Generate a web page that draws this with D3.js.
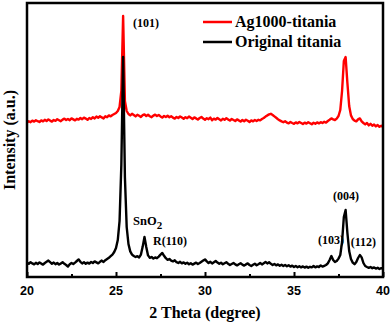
<!DOCTYPE html>
<html>
<head>
<meta charset="utf-8">
<script src="https://cdn.jsdelivr.net/npm/d3@7.9.0/dist/d3.min.js"></script>
<style>
  html, body { margin: 0; padding: 0; background: #fff; }
  svg { display: block; }
  .serif { font-family: "Liberation Serif", "Times New Roman", serif; font-weight: bold; }
  .sans { font-family: "Liberation Sans", Arial, sans-serif; font-weight: bold; }
</style>
</head>
<body>
<svg id="chart" width="392" height="325"></svg>
<script>
// 2 theta sampling (degrees), one value per 0.1 deg from 20 to 40
const thetaStart = 20;
const thetaStep = 0.1;

// Ag1000-titania intensity (a.u.)
const agTitania = [
  772, 779, 774, 782, 777, 784, 779, 775, 783, 778,
  786, 780, 788, 782, 777, 785, 781, 789, 784, 779,
  787, 792, 785, 790, 784, 793, 788, 783, 791, 787,
  795, 789, 797, 792, 786, 795, 790, 799, 793, 802,
  796, 804, 798, 793, 804, 799, 808, 803, 810, 815,
  820, 830, 850, 930, 1305, 880, 830, 815, 808, 816,
  810, 803, 811, 806, 800, 809, 813, 805, 811, 804,
  799, 807, 812, 805, 810, 803, 797, 805, 800, 806,
  799, 804, 797, 792, 800, 795, 803, 797, 791, 799,
  794, 802, 796, 790, 798, 793, 787, 795, 800, 792,
  786, 794, 789, 797, 784, 792, 787, 795, 789, 783,
  791, 786, 794, 788, 782, 790, 785, 780, 788, 783,
  777, 785, 779, 786, 781, 775, 783, 778, 785, 780,
  786, 783, 790, 795, 802, 808, 813, 816, 810, 803,
  796, 789, 783, 778, 774, 779, 772, 768, 775, 770,
  766, 773, 768, 775, 770, 765, 772, 767, 774, 769,
  764, 771, 766, 773, 768, 774, 770, 776, 772, 780,
  786, 793, 788, 785, 792, 805, 835, 930, 1080, 1100,
  970, 855, 808, 790, 782, 778, 788, 793, 778, 770,
  763, 770, 758, 766, 756, 762, 753, 760, 751, 756, 750
];

// Original titania intensity (a.u.)
const originalTitania = [
  72, 66, 74, 68, 63, 71, 65, 73, 67, 62,
  70, 76, 82, 74, 66, 72, 64, 70, 62, 68,
  74, 66, 60, 52, 64, 70, 65, 72, 80, 88,
  76, 68, 74, 66, 72, 67, 75, 70, 78, 73,
  68, 76, 82, 75, 84, 90, 96, 104, 112, 125,
  145, 185, 280, 560, 1100, 500, 250, 165, 128, 112,
  105, 100, 104, 98, 112, 152, 200, 150, 108, 96,
  100, 92, 98, 94, 102, 112, 120, 106, 94, 86,
  90, 82, 78, 84, 74, 70, 76, 68, 73, 66,
  71, 64, 69, 62, 67, 72, 65, 70, 76, 82,
  88, 78, 70, 76, 68, 74, 80, 72, 66, 71,
  64, 69, 74, 66, 60, 65, 70, 63, 58, 64,
  69, 62, 57, 63, 68, 60, 55, 61, 66, 59,
  64, 70, 63, 69, 75, 68, 74, 66, 60, 65,
  58, 63, 56, 61, 55, 60, 54, 59, 52, 57,
  50, 55, 49, 54, 48, 53, 47, 52, 46, 51,
  48, 55, 48, 53, 50, 58, 52, 56, 60, 68,
  85, 105, 85, 75, 80, 92, 110, 175, 300, 335,
  220, 130, 90, 72, 64, 75, 95, 110, 98, 70,
  55, 50, 46, 50, 44, 48, 42, 46, 40, 44, 40
];

const seriesNames = ['Ag1000-titania', 'Original titania'];
const seriesColors = ['#ff0000', '#000000'];
const xTicks = [20, 25, 30, 35, 40];
const xMinorTicks = [22.5, 27.5, 32.5, 37.5];

// peak labels: [text, theta at left edge, intensity at baseline]
const peakLabels = [
  ['(101)', 25.96, 1250],
  ['R(110)', 27.08, 160],
  ['(004)', 37.19, 385],
  ['(103)', 36.35, 165],
  ['(112)', 38.19, 155]
];
const sno2Label = [25.96, 260];

const width = 392, height = 325;
const margin = { top: 3, right: 9, bottom: 48, left: 27 };

const svg = d3.select('#chart');

const x = d3.scaleLinear()
  .domain([20, 40])
  .range([margin.left, width - margin.right]);
const y = d3.scaleLinear()
  .domain([0, 1370])
  .range([height - margin.bottom, margin.top]);

const toPoints = (vals) => vals.map((v, i) => [thetaStart + i * thetaStep, v]);

const line = d3.line()
  .x(d => x(d[0]))
  .y(d => y(d[1]));

// red first so the black pattern sits on top at the (101) peak
[agTitania, originalTitania].forEach((vals, i) => {
  svg.append('path')
    .datum(toPoints(vals))
    .attr('d', line)
    .attr('fill', 'none')
    .attr('stroke', seriesColors[i])
    .attr('stroke-width', 2.4)
    .attr('stroke-linejoin', 'round');
});

// ticks point inward
svg.append('g')
  .attr('transform', `translate(0,${height - margin.bottom})`)
  .call(d3.axisTop(x).tickValues(xTicks).tickSize(5).tickFormat(''))
  .call(g => g.select('.domain').remove())
  .call(g => g.selectAll('line').attr('stroke-width', 2));
svg.append('g')
  .attr('transform', `translate(0,${height - margin.bottom})`)
  .call(d3.axisTop(x).tickValues(xMinorTicks).tickSize(3).tickFormat(''))
  .call(g => g.select('.domain').remove())
  .call(g => g.selectAll('line').attr('stroke-width', 2));

// tick labels
svg.append('g')
  .selectAll('text')
  .data(xTicks)
  .join('text')
  .attr('class', 'sans')
  .attr('x', d => x(d))
  .attr('y', 295)
  .attr('text-anchor', 'middle')
  .attr('font-size', 12.5)
  .text(d => d);

// frame
svg.append('rect')
  .attr('x', margin.left)
  .attr('y', margin.top)
  .attr('width', width - margin.left - margin.right)
  .attr('height', height - margin.top - margin.bottom)
  .attr('fill', 'none')
  .attr('stroke', '#000')
  .attr('stroke-width', 2.5);

// axis titles
svg.append('text')
  .attr('class', 'serif')
  .attr('x', (margin.left + width - margin.right) / 2)
  .attr('y', 318)
  .attr('text-anchor', 'middle')
  .attr('font-size', 16)
  .text('2 Theta (degree)');

svg.append('text')
  .attr('class', 'serif')
  .attr('transform', `translate(15,${(margin.top + height - margin.bottom) / 2}) rotate(-90)`)
  .attr('text-anchor', 'middle')
  .attr('font-size', 16)
  .text('Intensity (a.u.)');

// legend
const legend = svg.append('g').attr('transform', 'translate(203,22)');
seriesNames.forEach((name, i) => {
  const row = legend.append('g').attr('transform', `translate(0,${i * 20})`);
  row.append('line')
    .attr('x1', 0).attr('x2', 29)
    .attr('y1', 0).attr('y2', 0)
    .attr('stroke', seriesColors[i])
    .attr('stroke-width', 2.5);
  row.append('text')
    .attr('class', 'serif')
    .attr('x', 32)
    .attr('y', 5)
    .attr('font-size', 16)
    .text(name);
});

// peak labels
svg.append('g')
  .selectAll('text')
  .data(peakLabels)
  .join('text')
  .attr('class', 'serif')
  .attr('x', d => x(d[1]))
  .attr('y', d => y(d[2]))
  .attr('font-size', 12)
  .text(d => d[0]);

// SnO2 with subscript
const sno2 = svg.append('text')
  .attr('class', 'serif')
  .attr('x', x(sno2Label[0]))
  .attr('y', y(sno2Label[1]))
  .attr('font-size', 12.5);
sno2.append('tspan').text('SnO');
sno2.append('tspan').attr('dy', 4).attr('font-size', 11).text('2');
</script>
</body>
</html>
